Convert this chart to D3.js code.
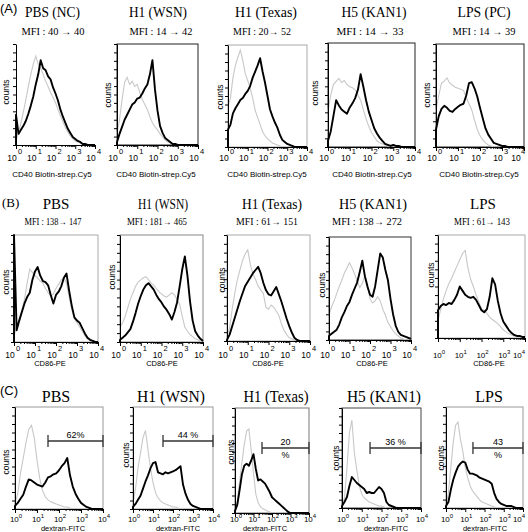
<!DOCTYPE html>
<html><head><meta charset="utf-8">
<script src="https://cdn.jsdelivr.net/npm/d3@7/dist/d3.min.js"></script>
<style>body{margin:0;background:#fff}svg{display:block}</style>
</head><body><svg id="c" width="528" height="532"></svg>
<script>
// ---- DATA ----
const logBins=[0,0.125,0.25,0.375,0.5,0.625,0.75,0.875,1,1.125,1.25,1.375,1.5,1.625,1.75,1.875,2,2.125,2.25,2.375,2.5,2.625,2.75,2.875,3,3.125,3.25,3.375,3.5,3.625,3.75,3.875,4];
const exponents=["0","1","2","3","4"];

const rowATitles=["PBS (NC)","H1 (WSN)","H1 (Texas)","H5 (KAN1)","LPS (PC)"];
const rowAMfi=["MFI : 40 \u2192 40","MFI : 14 \u2192 42","MFI : 20\u2192 52","MFI : 14 \u2192 33","MFI : 14 \u2192 39"];
const rowBTitles=["PBS","H1 (WSN)","H1 (Texas)","H5  (KAN1)","LPS"];
const rowBMfi=["MFI : 138\u2192 147","MFI : 181\u2192 465","MFI : 61\u2192 151","MFI : 138\u2192 272","MFI : 61\u2192 143"];
const rowCTitles=["PBS","H1 (WSN)","H1 (Texas)","H5  (KAN1)","LPS"];
const gatePct=["62%","44 %","20\n%","36 %","43\n%"];
const gateStart=[1.5,1.5,1.46,1.42,1.4];
const xLabels=["CD40 Biotin-strep.Cy5","CD86-PE","dextran-FITC"];

const a1Gray=[5,12,22,33,45,58,70,80,88,80,76,70,63,58,52,47,42,35,29,23,17,13,9,6,4,3,2,1,0,0,0,0,0];
const a1Black=[30,11,15,19,24,31,39,48,60,70,84,76,74,68,65,57,51,44,35,28,22,16,12,8,6,4,3,1,1,0,0,0,0];
const a2Gray=[12,25,45,62,67,60,63,58,60,52,45,40,35,28,22,18,15,11,8,5,3,2,1,0,0,0,0,0,0,0,0,0,0];
const a2Black=[3,11,18,25,30,35,40,42,46,47,51,56,60,70,84,55,34,19,12,7,5,3,1,1,0,0,0,0,0,0,0,0,0];
const a3Gray=[40,48,68,80,88,95,85,72,65,58,48,36,29,22,15,11,8,6,4,3,2,1,0,0,0,0,0,0,0,0,0,0,0];
const a3Black=[17,22,33,38,42,46,48,52,55,60,68,74,80,87,74,63,50,37,30,24,19,12,7,5,3,2,1,0,0,0,0,0,0];
const a4Gray=[35,50,60,63,66,62,64,60,58,57,55,50,45,36,27,20,14,10,6,4,3,2,1,0,0,0,0,0,0,0,0,0,0];
const a4Black=[6,15,30,45,40,36,34,32,38,42,47,55,70,58,45,34,26,18,13,9,6,3,2,1,2,1,1,0,0,0,0,0,0];
const a5Gray=[36,50,62,64,67,62,60,58,57,56,55,48,42,36,26,17,11,7,4,2,1,0,0,0,0,0,0,0,0,0,0,0,0];
const a5Black=[17,30,37,40,38,35,34,37,39,41,42,50,62,63,57,49,38,28,18,12,8,4,3,2,1,1,0,0,0,0,0,0,0];

const b1Gray=[5,15,22,30,40,55,68,65,62,60,57,55,50,46,43,45,50,54,58,60,55,42,30,22,18,14,10,6,3,1,0,0,0];
const b1Black=[100,11,20,28,36,42,46,58,66,70,62,57,56,53,44,36,44,47,52,60,64,48,34,23,20,18,13,8,4,2,1,0,0];
const b2Gray=[14,18,24,32,40,46,52,56,58,60,61,58,55,53,50,47,45,43,42,44,46,44,40,35,24,14,10,7,5,3,2,1,0];
const b2Black=[2,4,6,9,12,19,27,36,43,49,53,55,52,49,44,40,37,33,30,26,21,28,37,52,68,80,62,38,20,10,6,3,1];
const b3Gray=[5,12,30,45,58,67,76,82,86,72,63,58,52,48,45,32,30,34,32,28,24,16,10,6,3,2,1,0,0,0,0,0,0];
const b3Black=[1,6,14,22,30,38,45,52,56,60,64,67,70,64,55,48,44,43,47,51,44,37,29,21,14,8,3,1,0,0,0,0,0];
const b4Gray=[25,32,38,45,52,58,65,70,75,70,64,57,51,55,63,55,40,36,38,42,38,30,24,17,13,9,6,4,2,1,0,0,0];
const b4Black=[4,6,8,10,15,22,27,33,37,44,50,56,66,77,62,52,44,42,52,68,84,80,68,58,40,25,14,8,5,4,3,2,1];
const b5Gray=[17,28,38,46,53,58,64,70,76,82,85,68,57,50,42,35,28,27,24,20,18,16,14,11,8,6,4,3,2,1,0,0,0];
const b5Black=[27,31,33,32,34,33,37,42,50,46,42,40,39,40,37,32,27,25,28,40,58,52,36,24,16,12,8,5,3,2,2,1,1];

const c1Gray=[5,15,35,50,65,78,82,70,48,30,18,12,9,7,6,5,4,3,2,2,1,0,0,0,0,0,0,0,0,0,0,0,0];
const c1Black=[3,6,10,14,22,29,28,26,24,23,22,26,31,32,34,35,38,42,45,50,33,22,15,10,6,4,2,1,0,0,0,0,0];
const c2Gray=[6,20,40,55,70,77,58,40,26,16,11,8,6,5,4,3,2,2,1,0,0,0,0,0,0,0,0,0,0,0,0,0,0];
const c2Black=[2,5,9,13,20,27,33,40,45,46,36,35,34,36,35,36,37,38,40,42,24,15,9,5,3,2,1,0,0,0,0,0,0];
const c3Gray=[2,12,30,48,65,78,80,60,38,18,10,6,4,3,2,1,0,0,0,0,0,0,0,0,0,0,0,0,0,0,0,0,0];
const c3Black=[2,8,22,37,45,47,45,50,56,42,31,32,30,28,24,20,15,13,11,9,7,5,3,1,0,0,0,0,0,0,0,0,0];
const c4Gray=[2,10,40,75,88,55,38,22,14,10,8,6,5,4,3,2,2,1,0,0,0,0,0,0,0,0,0,0,0,0,0,0,0];
const c4Black=[2,6,11,22,31,28,25,23,21,19,15,16,15,15,18,21,19,15,6,3,2,1,0,0,0,0,0,0,0,0,0,0,0];
const c5Gray=[2,15,40,65,82,85,68,56,40,30,22,17,14,11,8,6,5,4,3,2,1,0,0,0,0,0,0,0,0,0,0,0,0];
const c5Black=[2,6,18,28,35,41,44,46,45,38,34,34,33,32,30,29,28,27,26,24,15,9,6,4,3,2,2,2,1,0,0,0,0];

// ---- LAYOUT ----
const SANS="'Liberation Sans', Arial, sans-serif";
const SERIF="'Liberation Serif', 'Times New Roman', serif";
const svg=d3.select('#c');

const panelsA=[
 {l:16,r:95,t:44,b:145,frame:null,tc:52.5,tw:55,mc:53,mw:63,xc:52,cx:6,cy:92},
 {l:117,r:198,t:44,b:145,frame:'#222',tc:158,tw:58,mc:161,mw:63,xc:156,cx:108,cy:95},
 {l:228,r:307,t:45,b:147,frame:'#aaa',tc:266,tw:62,mc:262,mw:58,xc:267,cx:220,cy:97},
 {l:328,r:415,t:43,b:147,frame:'#222',tc:374,tw:65,mc:370,mw:67,xc:372,cx:315,cy:93},
 {l:436,r:524,t:44,b:147,frame:'#222',tc:484,tw:53,mc:484,mw:63,xc:479,cx:427,cy:95}];
const panelsB=[
 {l:14,r:98,t:235,b:342,frame:'#aaa',tc:56,tw:0,mc:53,mw:57,xc:50,cx:6,cy:282},
 {l:120,r:203,t:235,b:342,frame:'#888',tc:163,tw:50,mc:157,mw:60,xc:162,cx:112,cy:277},
 {l:227,r:310,t:235,b:341,frame:'#aaa',tc:272,tw:60,mc:267,mw:62,xc:268,cx:222,cy:280},
 {l:329,r:411,t:237,b:340,frame:'#333',tc:373,tw:68,mc:367,mw:70,xc:372,cx:322,cy:285},
 {l:438,r:525,t:235,b:338,frame:'#aaa',tc:483,tw:0,mc:482,mw:56,xc:489,cx:431,cy:275}];
const panelsC=[
 {l:15,r:103,t:407,b:509,frame:'#999',tc:56,tw:0,xc:63,cx:6,cy:462},
 {l:133,r:213,t:407,b:509,frame:'#999',tc:171,tw:68,xc:178,cx:126,cy:455},
 {l:235,r:309,t:408,b:513,frame:'#777',tc:276,tw:65,xc:265,cx:231,cy:452},
 {l:342,r:421,t:408,b:508,frame:'#444',tc:384,tw:74,xc:386,cx:336,cy:458},
 {l:446,r:523,t:407,b:508,frame:'#999',tc:489,tw:0,xc:485,cx:441,cy:458}];

const dataA=[[a1Gray,a1Black],[a2Gray,a2Black],[a3Gray,a3Black],[a4Gray,a4Black],[a5Gray,a5Black]];
const dataB=[[b1Gray,b1Black],[b2Gray,b2Black],[b3Gray,b3Black],[b4Gray,b4Black],[b5Gray,b5Black]];
const dataC=[[c1Gray,c1Black],[c2Gray,c2Black],[c3Gray,c3Black],[c4Gray,c4Black],[c5Gray,c5Black]];

function txt(x,y,s,size,font,anchor,w){
  const t=svg.append('text').attr('x',x).attr('y',y).attr('font-size',size).attr('font-family',font)
    .attr('text-anchor',anchor||'middle').attr('fill','#000').text(s);
  if(w){t.attr('textLength',w).attr('lengthAdjust','spacingAndGlyphs');}
  return t;
}

function drawPanel(p,series,opt){
  const x=d3.scaleLog().domain([1,1e4]).range([p.l,p.r]);
  const y=d3.scaleLinear().domain([0,100]).range([p.b,p.t]);
  const g=svg.append('g');
  if(p.frame) g.append('rect').attr('x',p.l).attr('y',p.t).attr('width',p.r-p.l).attr('height',p.b-p.t)
     .attr('fill','none').attr('stroke',p.frame).attr('stroke-width',1);
  const line=d3.line().x(d=>x(Math.pow(10,d[0]))).y(d=>y(d[1]));
  const pts=vals=>[[logBins[0],0]].concat(vals.map((v,i)=>[logBins[i],v]));
  g.append('path').attr('d',line(pts(series[0]))).attr('fill','none').attr('stroke','#c8c8c8').attr('stroke-width',1.1);
  g.append('path').attr('d',line(pts(series[1]))).attr('fill','none').attr('stroke','#000').attr('stroke-width',1.9).attr('stroke-linejoin','round');
  // axes
  const minor=[];
  for(let k=0;k<4;k++) for(let m=2;m<10;m++) minor.push(m*Math.pow(10,k));
  const majors=[1,10,100,1000,10000];
  const ax1=g.append('g').attr('transform',`translate(0,${p.b})`)
    .call(d3.axisBottom(x).tickValues(minor).tickSize(2).tickSizeOuter(0).tickFormat(''));
  const ax2=g.append('g').attr('transform',`translate(0,${p.b})`)
    .call(d3.axisBottom(x).tickValues(majors).tickSize(4).tickSizeOuter(0).tickFormat(''));
  const yt=[];
  for(let i=0;i<=12;i++) yt.push(i*100/12);
  const ay=g.append('g').attr('transform',`translate(${p.l},0)`)
    .call(d3.axisLeft(y).tickValues(yt).tickSize(3).tickSizeOuter(0).tickFormat(''));
  [ax1,ax2,ay].forEach(a=>{a.selectAll('path,line').attr('stroke','#000').attr('stroke-width',1);});
  // tick labels
  majors.forEach((v,i)=>{
    const tx=x(v);
    if(opt.inline){
      const t=svg.append('text').attr('x',Math.min(tx+1,519)).attr('y',opt.baseY).attr('font-size',8).attr('font-family',SANS).attr('text-anchor','middle').text('10');
      t.append('tspan').attr('dy',-4).attr('font-size',6).text(exponents[i]);
    } else {
      txt(Math.min(tx-4,516),opt.baseY,'10',8.5,SANS,'middle');
      txt(Math.min(tx+2,521),opt.baseY-7,exponents[i],7.5,SANS,'start');
    }
  });
  txt(p.xc,opt.labelY,opt.label,opt.labelSize,SANS,'middle');
  svg.append('text').attr('transform',`translate(${p.cx+3},${p.cy}) rotate(-90)`).attr('font-size',8.5)
     .attr('font-family',SANS).attr('text-anchor','middle').text('counts');
  return x;
}

// Row A
txt(0,13,'(A)',13,SANS,'start');
panelsA.forEach((p,i)=>{
  txt(p.tc,17,rowATitles[i],15,SERIF,'middle',p.tw);
  txt(p.mc,35,rowAMfi[i],10,SERIF,'middle',p.mw);
  drawPanel(p,dataA[i],{baseY:161,label:xLabels[0],labelY:177,labelSize:8});
});
// Row B
txt(2,207,'(B)',13,SERIF,'start');
panelsB.forEach((p,i)=>{
  txt(p.tc,209,rowBTitles[i],15,SERIF,'middle',p.tw||null);
  txt(p.mc,225,rowBMfi[i],10,SERIF,'middle',p.mw);
  drawPanel(p,dataB[i],{baseY:358,label:xLabels[1],labelY:366,labelSize:7.5,inline:i===4});
});
// Row C
txt(0,395,'(C)',13,SANS,'start');
panelsC.forEach((p,i)=>{
  txt(p.tc,402,rowCTitles[i],16,SERIF,'middle',p.tw||null);
  const x=drawPanel(p,dataC[i],{baseY:522,label:xLabels[2],labelY:531,labelSize:7.5,inline:true});
  const gy=(i<2)?441:448;
  const x0=x(Math.pow(10,gateStart[i])), x1=p.r;
  const g=svg.append('g').attr('stroke','#333').attr('stroke-width',1.3);
  g.append('line').attr('x1',x0).attr('x2',x1).attr('y1',gy).attr('y2',gy);
  g.append('line').attr('x1',x0).attr('x2',x0).attr('y1',gy-6).attr('y2',gy+6);
  g.append('line').attr('x1',x1).attr('x2',x1).attr('y1',gy-6).attr('y2',gy+6);
  const parts=gatePct[i].split('\n');
  const cxp=(x0+x1)/2;
  txt(cxp,gy-3,parts[0],9,SANS,'middle');
  if(parts[1]) txt(cxp,gy+10,parts[1],9,SANS,'middle');
});
</script></body></html>
